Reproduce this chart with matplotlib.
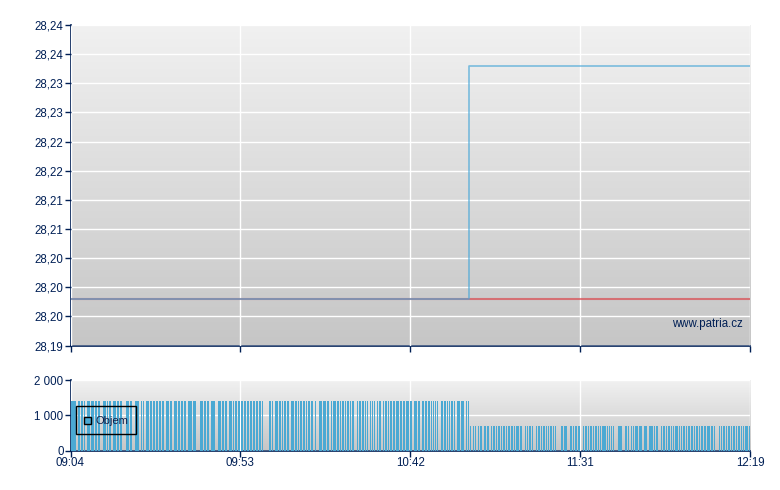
import numpy as np
import matplotlib
matplotlib.use('Agg')
import matplotlib.pyplot as plt
from matplotlib.patches import Rectangle

plt.rcParams['font.family'] = ['Liberation Sans', 'DejaVu Sans']

# cena, minuty od 09:04
line_times = [0, 114.3, 114.3, 195]
line_blue = [28.198, 28.198, 28.238, 28.238]
flat_times = [0, 195]
flat_red = [28.198, 28.198]

price_ticks = [28.19, 28.195, 28.20, 28.205, 28.21, 28.215, 28.22, 28.225, 28.23, 28.235, 28.24, 28.245]
price_labels = ['28,19', '28,20', '28,20', '28,20', '28,21', '28,21', '28,22', '28,22', '28,23', '28,23', '28,24', '28,24']
time_ticks = [0, 48.75, 97.5, 146.25, 195]
time_labels = ['09:04', '09:53', '10:42', '11:31', '12:19']
vol_ticks = [0, 1000, 2000]
vol_labels = ['0', '1 000', '2 000']
vol_high = 1400
vol_low = 700
vol_switch = 114.3

# objem: stridave useky s obchodem / bez obchodu, delka v casovych prihradkach
runs = [5, 2, 2, 1, 2, 1, 1, 2, 3, 1, 3, 1, 2, 1, 2, 3, 3, 1, 1, 1, 2, 2, 3, 1, 2, 1, 2, 4, 3, 1,
        2, 3, 4, 2, 1, 1, 1, 2, 3, 1, 2, 1, 2, 1, 2, 1, 2, 1, 2, 2, 3, 1, 2, 2, 3, 1, 2, 1, 2, 1, 2, 2,
        4, 1, 3, 4, 3, 1, 2, 1, 2, 2, 4, 3, 3, 1, 2, 1, 2, 2, 3, 1, 1, 1, 2,
        1, 2, 1, 2, 1, 2, 1, 2, 1, 2, 1, 2, 1, 2, 1, 2, 1, 1, 6,
        2, 1, 1, 2, 3, 1, 2, 1, 1, 1, 2, 1, 2, 2, 3, 1, 2, 1, 1, 1, 2, 1, 2, 1, 1, 1,
        2, 1, 2, 2, 1, 3, 3, 1, 3, 1, 2, 2, 1, 1, 3, 1, 2, 1, 1, 1, 2, 1, 1, 1, 2, 1, 1, 1, 2, 3,
        1, 1, 2, 1, 2, 1, 1, 1, 1, 2, 1, 1, 1, 1, 1, 2, 1, 1, 2, 2, 1, 1, 2, 1, 1, 1, 2, 1, 2, 1,
        3, 1, 2, 1, 2, 1, 3, 1, 2, 2, 3, 1, 2, 2, 2, 1, 2, 1,
        2, 1, 1, 1, 1, 1, 1, 1, 1, 3, 2, 1, 2, 1, 1, 1, 1, 1, 2, 1, 1, 2, 3, 1, 3, 2, 1, 1, 1,
        1, 1, 2, 1, 1, 1, 2, 1, 1, 2, 2, 2, 1, 2, 2, 1, 1, 2, 1, 1, 1, 2, 1, 1, 1, 2, 1, 1, 1, 2, 1, 2, 1, 1, 1, 3, 1, 2, 3,
        1, 1, 1, 1, 2, 1, 1, 3,
        1, 1, 2, 1, 1, 1, 2, 1, 1, 1, 1, 1, 2, 1, 1, 1, 1, 5,
        2, 1, 3, 3, 2, 1, 1, 1, 2, 1, 2, 3,
        1, 1, 2, 1, 1, 1, 2, 1, 1, 1, 2, 1, 1, 1, 1, 1, 4, 1, 1, 1, 1, 1, 1, 1, 1, 4,
        4, 3, 2, 1, 1, 2, 1, 1, 1, 1, 3, 1, 3, 2, 3, 2, 4, 1, 1, 1, 2, 3, 1, 1, 2, 1, 1, 1, 2, 1, 1, 1, 1, 1, 3, 1, 1, 1, 1,
        1, 2, 1, 1, 1, 2, 1, 2, 1, 1, 1, 2, 1, 1, 1, 2, 1, 2, 1, 3, 1, 2, 1, 1, 4,
        1, 1, 1, 1, 2, 1, 1, 1, 2, 1, 1, 1, 2, 1, 1, 1, 2, 1, 1, 1, 1, 1, 3, 1, 2]

navy = '#001f55'
W, H = 780, 490
bucket = 195 / 679.5

fig = plt.figure(figsize=(7.8, 4.9), dpi=100, facecolor='white')
ax1 = fig.add_axes([70.5 / W, 1 - 345.5 / H, 679.5 / W, 320.5 / H])
ax2 = fig.add_axes([70.5 / W, 1 - 450.5 / H, 679.5 / W, 70.5 / H])

grad = np.linspace(0, 1, 256).reshape(-1, 1)
for ax in (ax1, ax2):
    ax.imshow(grad, extent=[0, 1, 0, 1], transform=ax.transAxes, aspect='auto',
              cmap=matplotlib.colors.LinearSegmentedColormap.from_list('bg', ['#c6c6c6', '#f1f1f1']),
              origin='lower', zorder=0)
    ax.grid(True, color='white', linewidth=1.0, zorder=1)
    ax.set_axisbelow(False)
    ax.spines['top'].set_visible(False)
    ax.spines['right'].set_visible(False)
    ax.spines['left'].set_color(navy)
    ax.spines['bottom'].set_color(navy)
    ax.spines['left'].set_linewidth(1.2)
    ax.spines['bottom'].set_linewidth(1.2)
    ax.tick_params(colors=navy, labelsize=8.3, length=4, width=1, pad=1, labelcolor=navy)
    ax.set_xticks(time_ticks)
    ax.set_xlim(0, 195)

ax1.plot(flat_times, flat_red, color='#d9494f', linewidth=1.5, alpha=0.7, zorder=3)
ax1.plot(line_times, line_blue, color='#4aa8d8', linewidth=1.2, alpha=0.7, zorder=4)
ax1.set_ylim(28.19, 28.245)
ax1.set_yticks(price_ticks)
ax1.set_yticklabels(price_labels)
ax1.set_xticklabels([])
ax1.text(0.99, 0.067, 'www.patria.cz', transform=ax1.transAxes, ha='right', va='center',
         fontsize=8.3, color=navy, zorder=5)

# sloupce objemu, jeden sloupec na usek s obchodem
pos = 0.5
bar_x, bar_w, bar_h = [], [], []
for i, n in enumerate(runs):
    if i % 2 == 0:
        t = pos * bucket
        bar_x.append(t)
        bar_w.append(n * bucket)
        bar_h.append(vol_high if t < vol_switch else vol_low)
    pos += n
ax2.bar(bar_x, bar_h, width=bar_w, align='edge', color='#4ba9d3', linewidth=0, antialiased=False, zorder=3)
ax2.set_ylim(0, 2000)
ax2.set_yticks(vol_ticks)
ax2.set_yticklabels(vol_labels)
ax2.set_xticklabels(time_labels)

# legenda
ax2.add_patch(Rectangle((75.5 / W, 1 - 433.5 / H), 60 / W, 28 / H, transform=fig.transFigure,
                        fill=False, edgecolor='black', linewidth=1, zorder=6))
ax2.add_patch(Rectangle((83.5 / W, 1 - 423.5 / H), 7 / W, 7 / H, transform=fig.transFigure,
                        facecolor='#4ba9d3', edgecolor='black', linewidth=1, zorder=6))
ax2.text(95 / W, 1 - 420.5 / H, 'Objem', transform=fig.transFigure, va='center', ha='left',
         fontsize=8, color='#10204a', zorder=6)

fig.savefig('out.png', dpi=100)
